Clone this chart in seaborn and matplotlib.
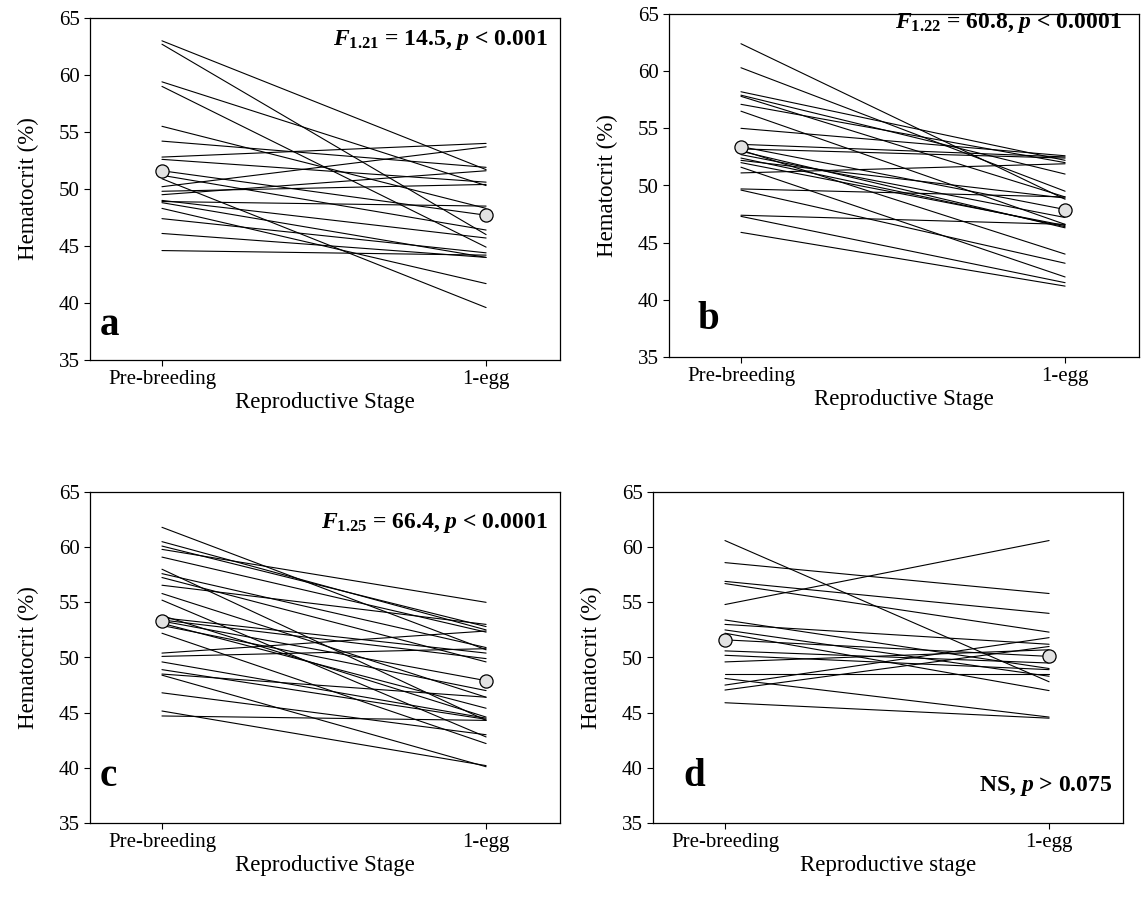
import numpy as np
import pandas as pd
import matplotlib
matplotlib.use("Agg")
import matplotlib.pyplot as plt
import seaborn as sns

sns.set_style("ticks")
plt.rcParams["font.family"] = ["Liberation Serif", "DejaVu Serif"]
plt.rcParams["mathtext.fontset"] = "custom"
plt.rcParams["mathtext.rm"] = "Liberation Serif"
plt.rcParams["mathtext.it"] = "Liberation Serif:italic"
plt.rcParams["mathtext.bf"] = "Liberation Serif:bold"
plt.rcParams["mathtext.bfit"] = "Liberation Serif:italic:bold"
for key in ["text.color", "axes.labelcolor", "xtick.color", "ytick.color"]:
    plt.rcParams[key] = "black"

stages = ["Pre-breeding", "1-egg"]

# hematocrit per bird: pre-breeding value, 1-egg value
a_pre = [63.0, 62.7, 59.4, 59.0, 55.5, 54.2, 52.8, 52.6, 50.9, 50.2, 49.8,
         49.0, 48.9, 48.3, 47.4, 46.1, 44.6, 51.2, 49.5, 48.8]
a_egg = [51.7, 46.0, 50.3, 44.9, 48.3, 51.9, 54.0, 50.6, 39.6, 53.7, 50.4,
         45.7, 48.5, 41.7, 44.4, 44.0, 44.2, 46.4, 51.6, 44.0]
a_mean = [51.6, 47.7]

b_pre = [62.4, 60.3, 58.2, 57.8, 57.1, 56.5, 55.0, 53.6, 53.0, 52.7, 52.4,
         52.0, 52.2, 51.1, 49.7, 49.6, 47.4, 47.3, 45.9, 53.2, 51.6, 53.1, 57.9]
b_egg = [48.8, 49.5, 52.2, 49.0, 52.0, 46.6, 52.6, 52.5, 46.3, 47.2, 46.4,
         46.5, 48.9, 51.9, 49.0, 43.2, 46.6, 41.5, 41.2, 52.4, 42.0, 44.0, 51.0]
b_mean = [53.4, 47.9]

c_pre = [61.8, 60.5, 59.8, 59.1, 58.0, 57.6, 57.25, 56.55, 55.8, 55.2, 53.6,
         53.4, 53.1, 52.2, 50.4, 50.1, 49.6, 48.9, 48.5, 48.4, 46.8, 45.15,
         44.7, 53.8, 52.9, 60.1]
c_egg = [50.7, 52.5, 55.0, 52.3, 44.3, 50.9, 49.6, 53.0, 46.4, 42.8, 50.4,
         49.9, 45.4, 42.2, 52.4, 50.8, 44.5, 44.4, 46.4, 40.1, 43.0, 40.2,
         44.3, 44.6, 47.0, 52.8]
c_mean = [53.3, 47.9]

d_pre = [60.6, 58.6, 56.9, 56.7, 54.8, 53.4, 53.0, 52.5, 52.2, 50.6, 50.2,
         49.6, 48.5, 48.1, 47.5, 47.05, 45.9]
d_egg = [47.8, 55.8, 54.0, 52.3, 60.6, 49.0, 51.2, 48.3, 47.0, 49.5, 48.9,
         50.7, 48.5, 44.6, 51.8, 51.0, 44.5]
d_mean = [51.6, 50.1]

panels = [
    ("a", a_pre, a_egg, a_mean, "Reproductive Stage",
     r"$\mathbfit{F}_{\mathbf{1.21}}$ = 14.5, $\mathbfit{p}$ < 0.001"),
    ("b", b_pre, b_egg, b_mean, "Reproductive Stage",
     r"$\mathbfit{F}_{\mathbf{1.22}}$ = 60.8, $\mathbfit{p}$ < 0.0001"),
    ("c", c_pre, c_egg, c_mean, "Reproductive Stage",
     r"$\mathbfit{F}_{\mathbf{1.25}}$ = 66.4, $\mathbfit{p}$ < 0.0001"),
    ("d", d_pre, d_egg, d_mean, "Reproductive stage",
     r"NS, $\mathbfit{p}$ > 0.075"),
]

W, H = 1143, 905
boxes = {"a": (90, 18, 470, 342), "b": (669, 14, 470, 343),
         "c": (90, 492, 470, 331), "d": (653, 492, 470, 331)}
stat_pos = {"a": (0.974, 0.936), "b": (0.964, 0.975),
            "c": (0.974, 0.906), "d": (0.977, 0.112)}
letter_pos = {"a": (0.02, 0.10), "b": (0.06, 0.11),
              "c": (0.02, 0.14), "d": (0.065, 0.14)}

fig = plt.figure(figsize=(W / 100, H / 100), dpi=100)

for letter, pre, egg, mean, xlab, stat in panels:
    x0, y0, w, h = boxes[letter]
    ax = fig.add_axes([x0 / W, 1 - (y0 + h) / H, w / W, h / H])

    df = pd.DataFrame({
        "bird": np.tile(np.arange(len(pre)), 2),
        "stage": np.repeat([0, 1], len(pre)),
        "hct": list(pre) + list(egg),
    })
    sns.lineplot(data=df, x="stage", y="hct", units="bird", estimator=None,
                 color="black", lw=0.8, ax=ax, legend=False)
    mdf = pd.DataFrame({"stage": [0, 1], "hct": mean})
    sns.lineplot(data=mdf, x="stage", y="hct", color="black", lw=0.8, ax=ax)
    sns.scatterplot(data=mdf, x="stage", y="hct", s=90, color="#e2e2e2",
                    edgecolor="black", linewidth=0.9, zorder=5, ax=ax)

    ax.set_xlim(-0.222, 1.228)
    ax.set_ylim(35, 65)
    ax.set_xticks([0, 1])
    ax.set_xticklabels(stages)
    ax.set_yticks(range(35, 66, 5))
    ax.tick_params(labelsize=15, length=4, width=0.8, direction="out")
    ax.set_xlabel(xlab, fontsize=16.5, labelpad=2)
    ax.set_ylabel("Hematocrit (%)", fontsize=16.5, labelpad=14)
    for sp in ax.spines.values():
        sp.set_visible(True)
        sp.set_linewidth(0.9)
        sp.set_color("black")

    sx, sy = stat_pos[letter]
    ax.text(sx, sy, stat, transform=ax.transAxes, ha="right", va="center",
            fontsize=17, fontweight="bold")
    lx, ly = letter_pos[letter]
    ax.text(lx, ly, letter, transform=ax.transAxes, ha="left", va="center",
            fontsize=28, fontweight="bold")

fig.savefig("out.png", dpi=100)
